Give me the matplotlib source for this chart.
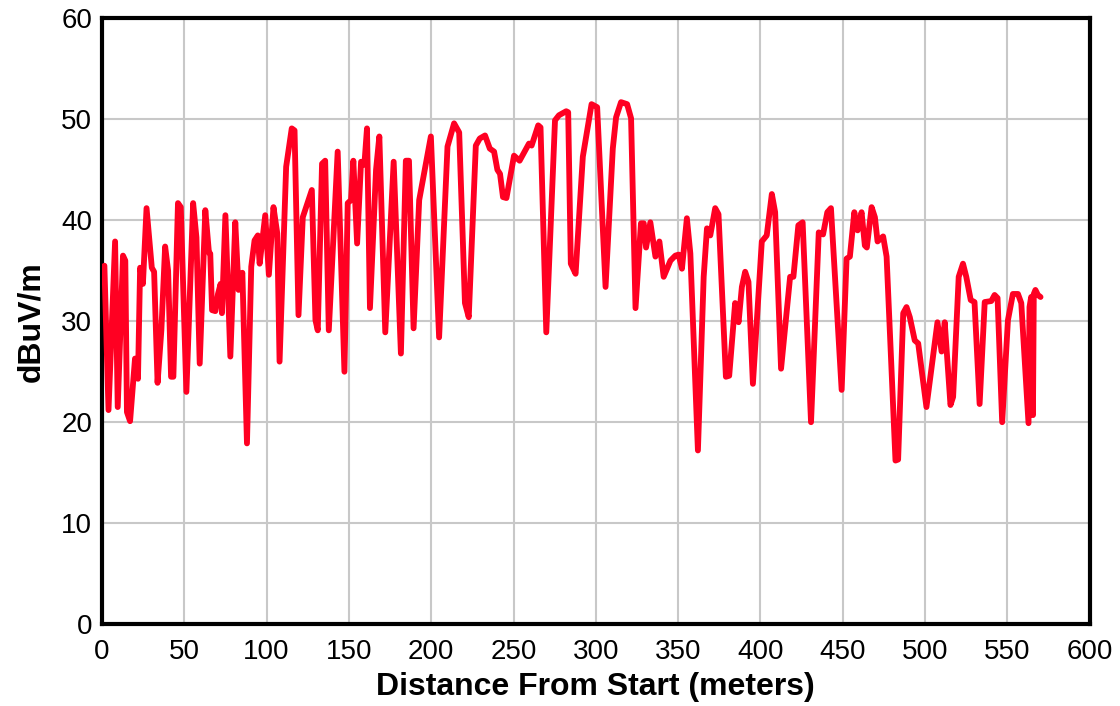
"""
Field strength along the drive route
====================================
dBuV/m vs distance from start
"""

import matplotlib
matplotlib.use('Agg')
import matplotlib.pyplot as plt

plt.rcParams['font.family'] = ['Liberation Sans', 'DejaVu Sans']

# Distance from start (m)
DIST = [
    1.5, 4.0, 8.0, 9.6, 12.8, 14.2, 15.2, 17.1, 20.1, 21.9,
    23.2, 24.9, 27.1, 30.3, 31.7, 33.8, 36.1, 38.4, 40.2, 42.0,
    43.4, 46.2, 47.9, 51.3, 55.4, 57.4, 59.4, 62.8, 65.0, 65.8,
    66.9, 68.9, 70.5, 72.1, 72.9, 75.0, 78.0, 81.0, 83.0, 85.3,
    88.1, 90.7, 92.7, 94.7, 95.8, 99.2, 101.4, 104.2, 106.5, 107.9,
    111.9, 115.3, 117.0, 119.4, 122.0, 127.5, 129.7, 131.1, 133.7, 135.6,
    137.8, 143.2, 147.3, 149.3, 151.3, 152.7, 155.0, 157.4, 159.4, 161.0,
    162.8, 166.5, 168.5, 172.1, 177.2, 181.6, 184.6, 186.5, 189.3, 192.7,
    199.8, 204.8, 209.9, 213.9, 217.0, 220.5, 222.8, 227.1, 229.5, 232.7,
    235.6, 238.2, 240.2, 241.8, 243.6, 245.7, 250.3, 253.7, 259.4, 261.0,
    265.0, 266.4, 269.9, 275.2, 277.6, 282.0, 283.2, 284.8, 287.7, 292.1,
    297.4, 300.8, 305.9, 310.3, 312.3, 315.3, 319.0, 321.4, 324.1, 327.4,
    329.1, 330.5, 333.1, 336.2, 338.6, 341.2, 345.3, 348.3, 350.3, 352.3,
    355.3, 357.4, 362.0, 365.5, 367.5, 369.5, 372.5, 374.5, 379.0, 381.0,
    384.6, 386.7, 388.7, 390.7, 392.7, 395.4, 400.8, 403.8, 406.9, 408.9,
    412.5, 418.0, 420.0, 423.0, 425.6, 430.7, 435.4, 438.0, 440.6, 442.8,
    449.3, 452.3, 454.3, 457.0, 459.0, 461.4, 463.4, 464.6, 467.5, 469.5,
    471.1, 474.5, 476.6, 482.0, 483.6, 486.7, 488.7, 490.7, 493.7, 495.8,
    500.8, 507.5, 510.0, 511.9, 515.4, 517.0, 520.4, 523.0, 525.0, 527.7,
    530.0, 533.1, 536.2, 540.2, 542.2, 544.0, 546.8, 550.3, 553.3, 556.4,
    558.4, 562.8, 563.4, 564.4, 565.5, 566.0, 567.0, 568.5, 570.1,
]

# Field strength (dBuV/m)
LEVEL = [
    35.5, 21.2, 37.9, 21.5, 36.5, 36.0, 21.0, 20.1, 26.3, 24.3,
    35.3, 33.7, 41.2, 35.3, 34.9, 23.9, 29.1, 37.4, 35.0, 24.5,
    24.5, 41.7, 41.3, 23.0, 41.7, 38.3, 25.8, 41.0, 36.8, 36.7,
    31.1, 31.0, 32.7, 33.7, 30.8, 40.5, 26.5, 39.8, 33.1, 34.8,
    17.9, 35.4, 38.0, 38.5, 35.7, 40.5, 34.6, 41.3, 38.7, 26.0,
    45.3, 49.1, 48.9, 30.6, 40.3, 43.0, 30.1, 29.1, 45.6, 45.9,
    29.1, 46.8, 25.0, 41.7, 42.0, 45.9, 37.7, 45.8, 45.5, 49.1,
    31.3, 45.0, 48.3, 28.9, 45.8, 26.8, 45.9, 45.9, 29.3, 42.0,
    48.3, 28.4, 47.3, 49.6, 48.7, 31.8, 30.4, 47.4, 48.1, 48.4,
    47.1, 46.8, 45.0, 44.6, 42.3, 42.2, 46.4, 45.9, 47.6, 47.4,
    49.4, 49.2, 28.9, 49.9, 50.4, 50.8, 50.7, 35.7, 34.7, 46.3,
    51.5, 51.2, 33.4, 47.1, 50.2, 51.7, 51.5, 50.1, 31.3, 39.7,
    39.7, 37.3, 39.8, 36.4, 37.9, 34.4, 36.0, 36.5, 36.6, 35.2,
    40.2, 36.7, 17.2, 34.4, 39.2, 38.5, 41.2, 40.6, 24.5, 24.6,
    31.8, 29.9, 33.4, 34.9, 33.9, 23.8, 37.9, 38.5, 42.6, 40.8,
    25.3, 34.4, 34.4, 39.5, 39.8, 20.0, 38.8, 38.6, 40.8, 41.2,
    23.2, 36.2, 36.4, 40.8, 39.0, 40.8, 37.5, 37.3, 41.3, 40.3,
    37.9, 38.4, 36.4, 16.2, 16.3, 30.8, 31.4, 30.4, 28.1, 27.8,
    21.5, 29.9, 27.0, 29.9, 21.7, 22.5, 34.4, 35.7, 34.4, 32.1,
    31.9, 21.8, 31.9, 32.0, 32.6, 32.3, 20.0, 30.1, 32.7, 32.7,
    31.8, 19.9, 31.4, 32.4, 20.7, 32.7, 33.1, 32.6, 32.4,
]

X_TICKS = [0, 50, 100, 150, 200, 250, 300, 350, 400, 450, 500, 550, 600]
Y_TICKS = [0, 10, 20, 30, 40, 50, 60]

LINE_COLOR = '#ff0022'
GRID_COLOR = '#c8c8c8'


def main():
    fig = plt.figure(figsize=(11.2, 7.06), dpi=100)
    ax = fig.add_axes([0.091, 0.116, 0.882, 0.858])

    ax.plot(DIST, LEVEL, '-', color=LINE_COLOR, linewidth=4.2,
            solid_joinstyle='round', solid_capstyle='round', zorder=3)

    ax.set_xlim(0, 600)
    ax.set_ylim(0, 60)
    ax.set_xticks(X_TICKS)
    ax.set_yticks(Y_TICKS)
    ax.tick_params(length=0, labelsize=20)
    ax.tick_params(axis='x', pad=11)
    ax.tick_params(axis='y', pad=7)

    ax.grid(True, color=GRID_COLOR, linewidth=1.5)
    ax.set_axisbelow(True)
    for sp in ax.spines.values():
        sp.set_linewidth(3)
        sp.set_color('black')

    ax.set_xlabel('Distance From Start (meters)', fontsize=23, fontweight='bold', labelpad=5)
    ax.set_ylabel('dBuV/m', fontsize=23, fontweight='bold', labelpad=11)

    fig.savefig('out.png', dpi=100)
    plt.close(fig)


if __name__ == '__main__':
    main()
